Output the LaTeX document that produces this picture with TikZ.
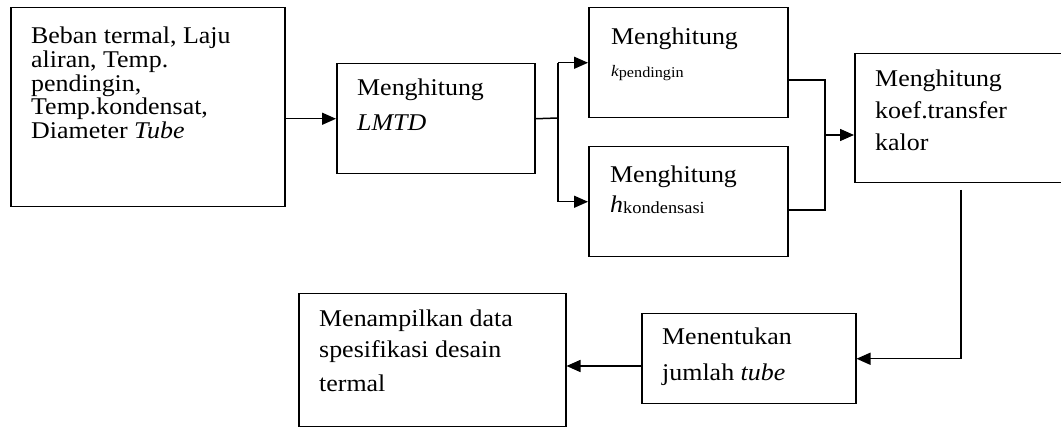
\documentclass[tikz,border=0pt]{standalone}
\usepackage{fontspec}
\setmainfont[FakeStretch=1.08]{Liberation Serif}
\usetikzlibrary{arrows.meta,calc}
\begin{document}
\begin{tikzpicture}[x=1pt,y=-1pt,
  box/.style={draw=black,line width=1.5pt,anchor=north west,inner sep=0pt},
  txt/.style={anchor=base west,inner sep=0pt,font=\fontsize{24}{24}\selectfont},
  ln/.style={draw=black,line width=1.5pt,line join=miter},
  arr/.style={ln,-{Triangle[length=14pt,width=12pt]}}]
\useasboundingbox (0,0) rectangle (1061,427);
% boxes
\node[box,minimum width=274pt,minimum height=199pt] (b1) at (10,7) {};
\node[box,minimum width=198pt,minimum height=110pt] (b2) at (336,63) {};
\node[box,minimum width=199pt,minimum height=110pt] (b3) at (588,7) {};
\node[box,minimum width=199pt,minimum height=110pt] (b4) at (588,146) {};
\node[box,minimum width=212pt,minimum height=129pt] (b5) at (854,53) {};
\node[box,minimum width=214pt,minimum height=90pt] (b6) at (641,313) {};
\node[box,minimum width=267pt,minimum height=133pt] (b7) at (298,293) {};
% texts
\node[txt] (t1a) at (31,44) {Beban termal, Laju};
\node[txt] (t1b) at (31,68) {aliran, Temp.};
\node[txt] (t1c) at (31,92) {pendingin,};
\node[txt] (t1d) at (31,115) {Temp.kondensat,};
\node[txt] (t1e) at (31,139) {Diameter \textit{Tube}};
\node[txt] (t2a) at (357,96) {Menghitung};
\node[txt] (t2b) at (357,131) {\textit{LMTD}};
\node[txt] (t3a) at (611,45) {Menghitung};
\node[txt] (t3b) at (611,77) {{\fontsize{16}{16}\selectfont\itshape k}\raisebox{-1pt}{\fontsize{15}{15}\selectfont pendingin}};
\node[txt] (t4a) at (610,183) {Menghitung};
\node[txt] (t4b) at (610,213) {\textit{h}\raisebox{-1pt}{\fontsize{17}{17}\selectfont kondensasi}};
\node[txt] (t5a) at (875,87) {Menghitung};
\node[txt] (t5b) at (875,119) {koef.transfer};
\node[txt] (t5c) at (875,151) {kalor};
\node[txt] (t6a) at (662,345) {Menentukan};
\node[txt] (t6b) at (662,381) {jumlah \textit{tube}};
\node[txt] (t7a) at (319,327) {Menampilkan data};
\node[txt] (t7b) at (319,358) {spesifikasi desain};
\node[txt] (t7c) at (319,392) {termal};
% connectors
\draw[arr] (b1.east |- b2.west) -- (b2.west);
\coordinate (s) at (558,118);
\draw[ln] (b2.east) -- (s);
\draw[ln] (s |- b3.west) -- (s |- b4.west);
\draw[arr] (s |- b3.west) -- (b3.west);
\draw[arr] (s |- b4.west) -- (b4.west);
\coordinate (j1) at (825,80);
\coordinate (j2) at (825,210);
\coordinate (j) at (825,135);
\draw[ln] (b3.east |- j1) -- (j1) -- (j2) -- (b4.east |- j2);
\draw[arr] (j) -- (b5.west |- j);
\coordinate (d1) at (961,190);
\draw[arr] (d1) |- (b6.east);
\coordinate (h) at (600,366);
\draw[arr] (b6.west |- h) -- (b7.east |- h);
\end{tikzpicture}
\end{document}
